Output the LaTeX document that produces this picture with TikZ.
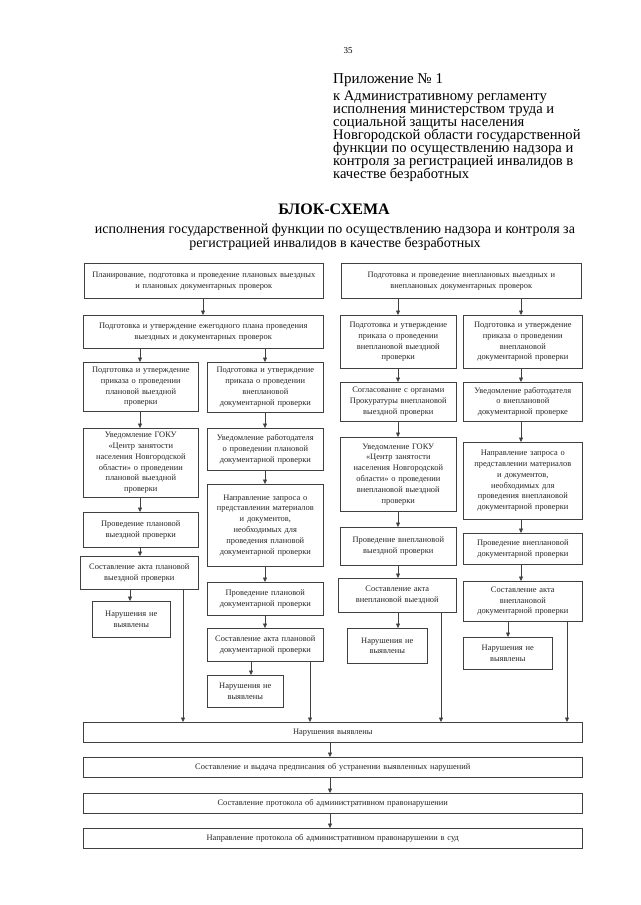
\documentclass[tikz,border=0pt]{standalone}
\usepackage{fontspec}
\setmainfont{Liberation Serif}
\usetikzlibrary{arrows.meta}
\newcommand\tightlines{\lineskiplimit=-100pt\relax}
\tikzset{
  box/.style={draw=black!75, line width=0.6pt, inner xsep=2pt, inner ysep=0pt, align=center,
    font=\fontsize{8.4}{10.8}\selectfont, text=black!85},
  wbox/.style={box, font=\fontsize{8.4}{10}\selectfont},
  arr/.style={draw=black!75, line width=0.6pt, -{Triangle[length=4.5pt,width=4pt]}},
}
\newcommand\mybox[7][box]{%
  \pgfmathsetmacro\mybw{#5-#3}\pgfmathsetmacro\mybh{#6-#4}\pgfmathsetmacro\mytw{#5-#3-4}%
  \node[#1, minimum width=\mybw pt, minimum height=\mybh pt, text width=\mytw pt, anchor=north west] (#2) at (#3,#4) {#7};}
\begin{document}
\begin{tikzpicture}[x=1pt,y=-1pt]
\useasboundingbox[fill=white] (0,0) rectangle (640,905);
% header
\node[anchor=base, font=\fontsize{9}{10}\selectfont] (pg) at (348,53) {35};
\node[anchor=base west, font=\fontsize{15}{16}\selectfont, inner sep=0pt] (app) at (333,83) {Приложение № 1};
\node[anchor=north west, align=left, inner sep=0pt, font=\fontsize{14.6}{13}\selectfont\tightlines] (reg) at (333,91)
 {к Административному регламенту\\исполнения министерством труда и\\социальной защиты населения\\Новгородской области государственной\\функции по осуществлению надзора и\\контроля за регистрацией инвалидов в\\качестве безработных};
\node[anchor=base, font=\bfseries\fontsize{16}{18}\selectfont, inner sep=0pt] (ttl) at (334,214) {БЛОК-СХЕМА};
\node[anchor=north, align=center, inner sep=0pt, font=\fontsize{14}{12.6}\selectfont] (sub) at (335,224)
 {исполнения государственной функции по осуществлению надзора и контроля за\\регистрацией инвалидов в качестве безработных};
% top boxes
\mybox{P1}{84}{263}{323}{298}{Планирование, подготовка и проведение плановых выездных\\и плановых документарных проверок}
\mybox{U1}{341}{263}{581}{298}{Подготовка и проведение внеплановых выездных и\\внеплановых документарных проверок}
\mybox{P2}{83}{315}{323}{348}{Подготовка и утверждение ежегодного плана проведения\\выездных и документарных проверок}
% left A
\mybox{A1}{83}{362}{198}{411}{Подготовка и утверждение\\приказа о проведении\\плановой выездной\\проверки}
\mybox{A2}{83}{428}{198}{497}{Уведомление ГОКУ\\«Центр занятости\\населения Новгородской\\области» о проведении\\плановой выездной\\проверки}
\mybox{A3}{83}{512}{198}{547}{Проведение плановой\\выездной проверки}
\mybox{A4}{80}{556}{198}{589}{Составление акта плановой\\выездной проверки}
\mybox{A5}{92}{601}{170}{637}{Нарушения не\\выявлены}
% left B
\mybox{B1}{207}{362}{323}{412}{Подготовка и утверждение\\приказа о проведении\\внеплановой\\документарной проверки}
\mybox{B2}{207}{428}{323}{470}{Уведомление работодателя\\о проведении плановой\\документарной проверки}
\mybox{B3}{207}{484}{323}{566}{Направление запроса о\\представлении материалов\\и документов,\\необходимых для\\проведения плановой\\документарной проверки}
\mybox{B4}{207}{582}{323}{615}{Проведение плановой\\документарной проверки}
\mybox{B5}{207}{628}{323}{661}{Составление акта плановой\\документарной проверки}
\mybox{B6}{207}{675}{283}{707}{Нарушения не\\выявлены}
% right C
\mybox{C1}{340}{315}{456}{368}{Подготовка и утверждение\\приказа о проведении\\внеплановой выездной\\проверки}
\mybox{C2}{340}{382}{456}{421}{Согласование с органами\\Прокуратуры внеплановой\\выездной проверки}
\mybox{C3}{340}{437}{456}{511}{Уведомление ГОКУ\\«Центр занятости\\населения Новгородской\\области» о проведении\\внеплановой выездной\\проверки}
\mybox{C4}{340}{527}{456}{565}{Проведение внеплановой\\выездной проверки}
\mybox{C5}{338}{578}{456}{612}{Составление акта\\внеплановой выездной}
\mybox{C6}{347}{628}{427}{663}{Нарушения не\\выявлены}
% right D
\mybox{D1}{463}{315}{582}{368}{Подготовка и утверждение\\приказа о проведении\\внеплановой\\документарной проверки}
\mybox{D2}{463}{382}{582}{421}{Уведомление работодателя\\о внеплановой\\документарной проверке}
\mybox{D3}{463}{442}{582}{519}{Направление запроса о\\представлении материалов\\и документов,\\необходимых для\\проведения внеплановой\\документарной проверки}
\mybox{D4}{463}{533}{582}{564}{Проведение внеплановой\\документарной проверки}
\mybox{D5}{463}{581}{582}{621}{Составление акта\\внеплановой\\документарной проверки}
\mybox{D6}{463}{637}{552}{669}{Нарушения не\\выявлены}
% bottom
\mybox[wbox]{N}{83}{722}{582}{742}{Нарушения выявлены}
\mybox[wbox]{S1}{83}{757}{582}{777}{Составление и выдача предписания об устранении выявленных нарушений}
\mybox[wbox]{S2}{83}{793}{582}{813}{Составление протокола об административном правонарушении}
\mybox[wbox]{S3}{83}{828}{582}{848}{Направление протокола об административном правонарушении в суд}
% column coordinates
\coordinate (xP) at (203,0);
\coordinate (xA) at (140,0);
\coordinate (xA5) at (130,0);
\coordinate (xB) at (265,0);
\coordinate (xB6) at (251,0);
\coordinate (xC) at (398,0);
\coordinate (xD) at (521,0);
\coordinate (xD6) at (508,0);
\coordinate (lA) at (183,0);
\coordinate (lB) at (310,0);
\coordinate (lC) at (441,0);
\coordinate (lD) at (567,0);
\coordinate (xM) at (330,0);
% arrows
\draw[arr] (P1.south -| xP) -- (P2.north -| xP);
\draw[arr] (P2.south -| xA) -- (A1.north -| xA);
\draw[arr] (P2.south -| xB) -- (B1.north -| xB);
\draw[arr] (U1.south -| xC) -- (C1.north -| xC);
\draw[arr] (U1.south -| xD) -- (D1.north -| xD);
\draw[arr] (A1.south -| xA) -- (A2.north -| xA);
\draw[arr] (A2.south -| xA) -- (A3.north -| xA);
\draw[arr] (A3.south -| xA) -- (A4.north -| xA);
\draw[arr] (A4.south -| xA5) -- (A5.north -| xA5);
\draw[arr] (B1.south -| xB) -- (B2.north -| xB);
\draw[arr] (B2.south -| xB) -- (B3.north -| xB);
\draw[arr] (B3.south -| xB) -- (B4.north -| xB);
\draw[arr] (B4.south -| xB) -- (B5.north -| xB);
\draw[arr] (B5.south -| xB6) -- (B6.north -| xB6);
\draw[arr] (C1.south -| xC) -- (C2.north -| xC);
\draw[arr] (C2.south -| xC) -- (C3.north -| xC);
\draw[arr] (C3.south -| xC) -- (C4.north -| xC);
\draw[arr] (C4.south -| xC) -- (C5.north -| xC);
\draw[arr] (C5.south -| xC) -- (C6.north -| xC);
\draw[arr] (D1.south -| xD) -- (D2.north -| xD);
\draw[arr] (D2.south -| xD) -- (D3.north -| xD);
\draw[arr] (D3.south -| xD) -- (D4.north -| xD);
\draw[arr] (D4.south -| xD) -- (D5.north -| xD);
\draw[arr] (D5.south -| xD6) -- (D6.north -| xD6);
\draw[arr] (A4.south -| lA) -- (N.north -| lA);
\draw[arr] (B5.south -| lB) -- (N.north -| lB);
\draw[arr] (C5.south -| lC) -- (N.north -| lC);
\draw[arr] (D5.south -| lD) -- (N.north -| lD);
\draw[arr] (N.south -| xM) -- (S1.north -| xM);
\draw[arr] (S1.south -| xM) -- (S2.north -| xM);
\draw[arr] (S2.south -| xM) -- (S3.north -| xM);
\end{tikzpicture}
\end{document}
